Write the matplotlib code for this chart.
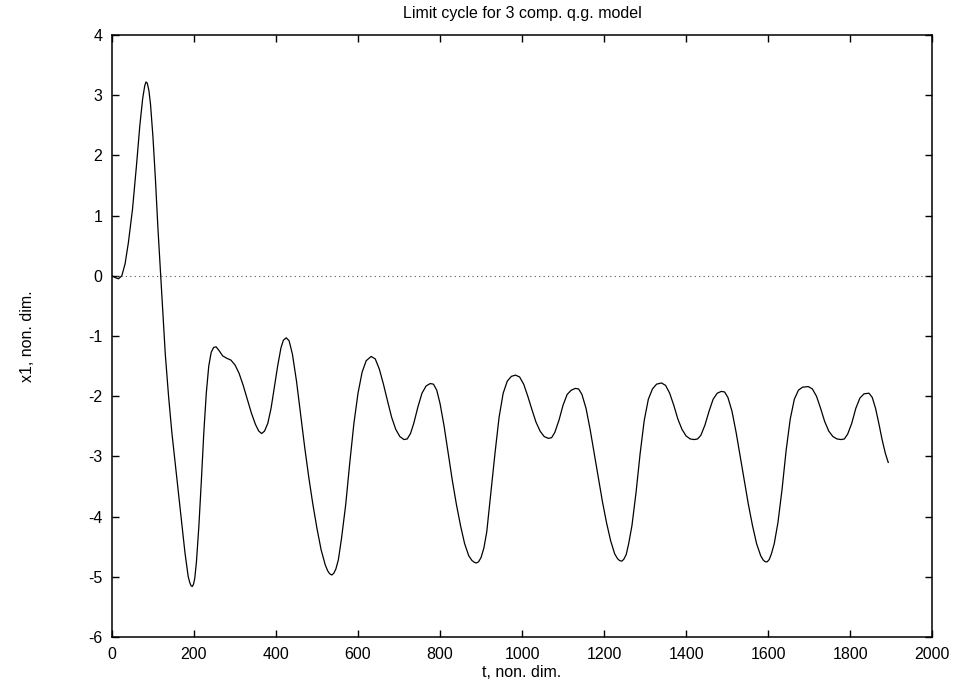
import numpy as np
import matplotlib.pyplot as plt

plt.rcParams['font.family'] = ['Liberation Sans', 'DejaVu Sans']
plt.rcParams['axes.unicode_minus'] = False

# time (non-dim) and x1 values
t_vals = [0, 8, 16, 24, 32, 40, 50, 60, 68, 75, 80, 83, 86, 90, 94, 100, 106, 112, 118,
          124, 130, 138, 146, 154, 162, 170, 178, 186, 190, 193, 196, 199, 202, 206, 212, 218,
          224, 230, 236, 242, 248, 254, 262, 270, 280, 290, 300, 310, 320, 330, 340,
          350, 358, 365, 372, 380, 388, 396, 404, 412, 418, 425, 432, 440, 450, 460,
          470, 480, 490, 500, 510, 520, 526, 531, 536, 541, 546, 552, 560, 570, 580, 590, 600,
          610, 620, 632, 642, 652, 662, 672, 682, 692, 702, 712, 720, 728, 736, 746,
          756, 766, 776, 784, 792, 800, 810, 820, 830, 840, 850, 860, 870, 878, 884, 889,
          894, 900, 907, 914, 924, 934, 944, 954, 964, 974, 984, 994, 1004, 1014, 1024,
          1034, 1044, 1054, 1064, 1072, 1080, 1090, 1100, 1110, 1120, 1130, 1138,
          1146, 1156, 1166, 1176, 1186, 1196, 1206, 1216, 1226, 1233, 1238, 1243, 1248,
          1254, 1260, 1268, 1278, 1288, 1298, 1308, 1318, 1328, 1340, 1350, 1360, 1370,
          1380, 1390, 1400, 1410, 1420, 1428, 1436, 1446, 1456, 1466, 1476, 1486,
          1494, 1502, 1512, 1522, 1532, 1542, 1552, 1562, 1572, 1582, 1588, 1593, 1598,
          1603, 1608, 1615, 1624, 1634, 1644, 1654, 1664, 1674, 1684, 1698, 1708, 1718,
          1728, 1738, 1748, 1758, 1768, 1778, 1786, 1794, 1804, 1814, 1824, 1834,
          1846, 1854, 1862, 1870, 1878, 1886, 1893]
x1_vals = [0.0, -0.03, -0.05, 0.0, 0.2, 0.55, 1.1, 1.85, 2.5, 2.95, 3.16, 3.22, 3.2,
           3.08, 2.85, 2.3, 1.6, 0.8, 0.1, -0.6, -1.3, -2.0, -2.6, -3.1, -3.6, -4.1, -4.6,
           -5.0, -5.1, -5.15, -5.16, -5.12, -5.02, -4.75, -4.15, -3.4, -2.6, -1.95, -1.5, -1.27,
           -1.19, -1.18, -1.25, -1.33, -1.37, -1.4, -1.48, -1.62, -1.82, -2.05, -2.28,
           -2.47, -2.58, -2.62, -2.58, -2.45, -2.2, -1.85, -1.5, -1.2, -1.07, -1.03,
           -1.08, -1.3, -1.75, -2.3, -2.85, -3.35, -3.8, -4.2, -4.55, -4.8, -4.9, -4.95,
           -4.97, -4.94, -4.87, -4.72, -4.35, -3.8, -3.1, -2.45, -1.95, -1.6, -1.41, -1.34,
           -1.38, -1.55, -1.8, -2.08, -2.35, -2.55, -2.67, -2.72, -2.71, -2.62, -2.45,
           -2.18, -1.95, -1.83, -1.79, -1.8, -1.9, -2.12, -2.5, -2.95, -3.4, -3.8,
           -4.15, -4.45, -4.65, -4.73, -4.76, -4.77, -4.75, -4.68, -4.52, -4.25, -3.6,
           -2.95, -2.35, -1.95, -1.75, -1.67, -1.65, -1.68, -1.8, -2.0, -2.22, -2.43,
           -2.58, -2.67, -2.7, -2.69, -2.6, -2.4, -2.15, -1.97, -1.9, -1.87, -1.88, -1.97,
           -2.2, -2.55, -2.95, -3.35, -3.75, -4.1, -4.4, -4.62, -4.7, -4.73, -4.74, -4.71,
           -4.63, -4.45, -4.15, -3.6, -2.95, -2.4, -2.05, -1.88, -1.8, -1.78, -1.82, -1.95,
           -2.15, -2.38, -2.55, -2.66, -2.71, -2.72, -2.71, -2.65, -2.48, -2.25, -2.05,
           -1.95, -1.92, -1.93, -2.02, -2.25, -2.6, -3.0, -3.4, -3.8, -4.15, -4.45,
           -4.65, -4.72, -4.75, -4.75, -4.71, -4.62, -4.45, -4.1, -3.55, -2.9, -2.38,
           -2.05, -1.9, -1.85, -1.84, -1.88, -2.0, -2.2, -2.42, -2.58, -2.67, -2.71,
           -2.72, -2.71, -2.63, -2.45, -2.2, -2.03, -1.96, -1.95, -2.02, -2.2, -2.45,
           -2.72, -2.95, -3.1]

xticks = [0, 200, 400, 600, 800, 1000, 1200, 1400, 1600, 1800, 2000]
yticks = [-6, -5, -4, -3, -2, -1, 0, 1, 2, 3, 4]

fig = plt.figure(figsize=(9.57, 6.83), dpi=100)
ax = fig.add_axes([0.117, 0.0673, 0.857, 0.8815])

ax.axhline(0, color='#555555', lw=0.8, ls=(0, (1, 3)))
ax.plot(t_vals, x1_vals, color='black', lw=0.9)

ax.set_xlim(0, 2000)
ax.set_ylim(-6, 4)
ax.set_xticks(xticks)
ax.set_yticks(yticks)
ax.tick_params(direction='in', length=5, width=1, top=True, right=True,
               labelsize=11.5, pad=7)
for s in ax.spines.values():
    s.set_linewidth(1.1)

ax.set_title('Limit cycle for 3 comp. q.g. model', fontsize=11.5, pad=12)
ax.set_xlabel('t, non. dim.', fontsize=11.5, labelpad=2)
ax.set_ylabel('x1, non. dim.', fontsize=11.5, labelpad=38)

fig.savefig('out.png', dpi=100)
